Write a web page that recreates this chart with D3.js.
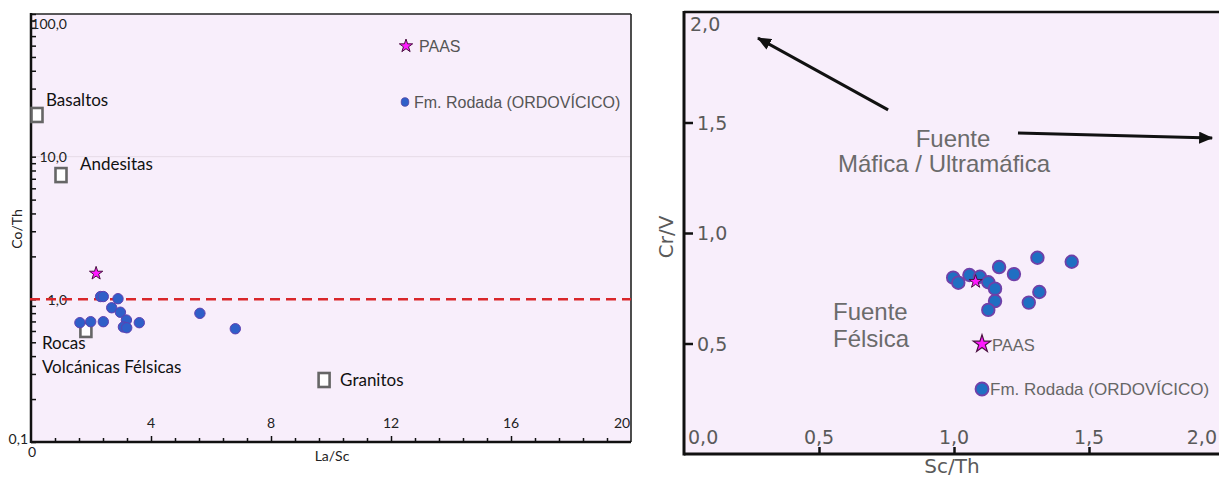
<!DOCTYPE html>
<html><head><meta charset="utf-8">
<script src="https://cdn.jsdelivr.net/npm/d3@7"></script>
<style>html,body{margin:0;padding:0;background:#fff;}</style>
</head><body>
<svg id="c" width="1219" height="480"></svg>
<script>
// ---------- DATA ----------
// Left panel: Co/Th vs La/Sc
const rodadaLaSc = [1.63, 1.99, 2.32, 2.41, 2.41, 2.69, 2.90, 2.98, 3.18, 3.08, 3.19, 3.61, 5.63, 6.81];
const rodadaCoTh = [0.686, 0.697, 1.046, 1.046, 0.697, 0.873, 1.01, 0.812, 0.716, 0.64, 0.632, 0.686, 0.798, 0.622];
const paasLaSc = [2.17];
const paasCoTh = [1.52];
const sourceNames = ["Basaltos", "Andesitas", "Rocas|Volcánicas Félsicas", "Granitos"];
const sourceLaSc = [0.2, 1.0, 1.83, 9.77];
const sourceCoTh = [19.6, 7.43, 0.61, 0.272];
const leftXTicks = [0, 4, 8, 12, 16, 20];
const leftXTickLabels = ["0", "4", "8", "12", "16", "20"];
const leftYTicks = [0.1, 1, 10, 100];
const leftYTickLabels = ["0,1", "1,0", "10,0", "100,0"];
const refLineCoTh = [1];

// Right panel: Cr/V vs Sc/Th
const rodadaScTh = [0.997, 1.016, 1.057, 1.096, 1.127, 1.152, 1.152, 1.127, 1.167, 1.222, 1.309, 1.436, 1.316, 1.277];
const rodadaCrV  = [0.798, 0.775, 0.810, 0.802, 0.777, 0.748, 0.692, 0.652, 0.846, 0.814, 0.888, 0.870, 0.733, 0.685];
const paasScTh = [1.08];
const paasCrV = [0.78];
const rightTicks = [0, 0.5, 1.0, 1.5, 2.0];
const rightTickLabels = ["0,0", "0,5", "1,0", "1,5", "2,0"];
// annotation arrows (data units: [x1,y1,x2,y2])
const arrowsScTh = [[0.756, 1.557, 0.274, 1.882], [1.237, 1.452, 1.956, 1.430]];

// ---------- DRAW ----------
const svg = d3.select("#c");
const BG = "#f8eefb";
const sym = d3.symbol();

// ===== LEFT =====
const xL = d3.scaleLinear([0, 20], [31, 631]);
const yL = d3.scaleLog([0.1, 100], [442, 14]);
const L = svg.append("g");
L.append("rect").attr("x", xL(0)).attr("y", yL(100)).attr("width", xL(20) - xL(0)).attr("height", yL(0.1) - yL(100)).attr("fill", BG);
// faint gridline at 10
L.append("line").attr("x1", xL(0)).attr("x2", xL(20)).attr("y1", yL(10)).attr("y2", yL(10)).attr("stroke", "#e6dbe6").attr("stroke-width", 1);
// frame
L.append("line").attr("x1", xL(0)).attr("x2", xL(20)).attr("y1", yL(100)).attr("y2", yL(100)).attr("stroke", "#222").attr("stroke-width", 1.6);
L.append("line").attr("x1", xL(20)).attr("x2", xL(20)).attr("y1", yL(100)).attr("y2", yL(0.1)).attr("stroke", "#222").attr("stroke-width", 1.6);

// ticks via axes
const minorX = d3.range(0.8, 20, 0.8).filter(v => Math.abs(v / 4 - Math.round(v / 4)) > 1e-6);
L.append("g").attr("transform", `translate(0,${yL(0.1)})`)
  .call(d3.axisBottom(xL).tickValues(minorX).tickSize(-4).tickFormat(""))
  .call(g => g.select(".domain").remove())
  .selectAll("line").attr("stroke", "#111").attr("stroke-width", 1.5);
L.append("g").attr("transform", `translate(0,${yL(0.1)})`)
  .call(d3.axisBottom(xL).tickValues([4, 8, 12, 16]).tickSize(-6).tickFormat(""))
  .call(g => g.select(".domain").remove())
  .selectAll("line").attr("stroke", "#111").attr("stroke-width", 1.5);
L.append("g").attr("transform", `translate(${xL(0)},0)`)
  .call(d3.axisLeft(yL).tickValues(yL.ticks()).tickSize(-5).tickFormat(""))
  .call(g => g.select(".domain").remove())
  .selectAll("line").attr("stroke", "#111").attr("stroke-width", 1.5);
// axis lines
L.append("line").attr("x1", xL(0)).attr("x2", xL(20)).attr("y1", yL(0.1)).attr("y2", yL(0.1)).attr("stroke", "#111").attr("stroke-width", 2.5);
L.append("line").attr("x1", xL(0)).attr("x2", xL(0)).attr("y1", yL(100) - 1).attr("y2", yL(0.1) + 1).attr("stroke", "#111").attr("stroke-width", 2.5);

const tickFont = "Lato, 'Open Sans', sans-serif";
// x tick labels
leftXTicks.forEach((v, i) => {
  const t = L.append("text").text(leftXTickLabels[i]).attr("font-family", tickFont).attr("font-size", 14).attr("fill", "#222");
  if (v === 0) {
    t.attr("x", xL(0) + 1).attr("y", yL(0.1) + 15).attr("text-anchor", "middle");
  } else {
    t.attr("x", Math.min(xL(v), xL(20) - 9)).attr("y", yL(0.1) - 14).attr("text-anchor", "middle");
  }
});
// y tick labels
leftYTicks.forEach((v, i) => {
  const t = L.append("text").text(leftYTickLabels[i]).attr("font-family", tickFont).attr("font-size", 14).attr("fill", "#222").attr("dominant-baseline", "central");
  if (v === 0.1) {
    t.attr("x", xL(0) - 3).attr("y", yL(0.1) - 4).attr("text-anchor", "end");
  } else {
    t.attr("x", xL(0) + 36).attr("y", Math.max(yL(v), yL(100) + 9)).attr("text-anchor", "end");
  }
});
// axis titles
L.append("text").text("La/Sc").attr("x", 332).attr("y", 461).attr("text-anchor", "middle").attr("font-family", tickFont).attr("font-size", 14).attr("fill", "#222");
L.append("text").text("Co/Th").attr("transform", `translate(22,229) rotate(-90)`).attr("text-anchor", "middle").attr("font-family", tickFont).attr("font-size", 14).attr("fill", "#222");

// red dashed reference line
L.selectAll(".ref").data(refLineCoTh).join("line")
  .attr("x1", xL(0) - 1).attr("x2", xL(20)).attr("y1", d => yL(d)).attr("y2", d => yL(d))
  .attr("stroke", "#d9262a").attr("stroke-width", 2.5).attr("stroke-dasharray", "10,6");

// source squares & labels
const srcLabelOff = [[9, -9], [19, -5], [-44, 19], [16, 6]];
sourceNames.forEach((name, i) => {
  const cx = xL(sourceLaSc[i]), cy = yL(sourceCoTh[i]);
  L.append("rect").attr("x", cx - 5.5).attr("y", cy - 7).attr("width", 11).attr("height", 14)
    .attr("fill", "#fff").attr("stroke", "#666").attr("stroke-width", 2.6);
  const lines = name.split("|");
  lines.forEach((ln, j) => {
    L.append("text").text(ln).attr("x", cx + srcLabelOff[i][0]).attr("y", cy + srcLabelOff[i][1] + j * 24)
      .attr("font-family", tickFont).attr("font-size", 17).attr("fill", "#111");
  });
});

// Rodada points
L.selectAll(".pl").data(rodadaLaSc).join("circle")
  .attr("cx", d => xL(d)).attr("cy", (d, i) => yL(rodadaCoTh[i])).attr("r", 5.2)
  .attr("fill", "#2f5fc8").attr("stroke", "#6040b0").attr("stroke-width", 1);
// PAAS star
L.selectAll(".sl").data(paasLaSc).join("path")
  .attr("d", sym.type(d3.symbolStar).size(55)())
  .attr("transform", (d, i) => `translate(${xL(d)},${yL(paasCoTh[i])})`)
  .attr("fill", "#ff1aff").attr("stroke", "#4a1040").attr("stroke-width", 1);

// left legend
const legFont = "'Liberation Sans', Arial, sans-serif";
L.append("path").attr("d", d3.symbol(d3.symbolStar, 55)()).attr("transform", "translate(406,46)")
  .attr("fill", "#ff1aff").attr("stroke", "#4a1040").attr("stroke-width", 1);
L.append("text").text("PAAS").attr("x", 419).attr("y", 46).attr("dominant-baseline", "central")
  .attr("font-family", legFont).attr("font-size", 16).attr("fill", "#555");
L.append("ellipse").attr("cx", 405).attr("cy", 102).attr("rx", 3.8).attr("ry", 4.3).attr("fill", "#2f5fc8").attr("stroke", "#5040a0").attr("stroke-width", 0.8);
L.append("text").text("Fm. Rodada (ORDOVÍCICO)").attr("x", 414).attr("y", 102).attr("dominant-baseline", "central")
  .attr("font-family", legFont).attr("font-size", 16).attr("fill", "#555");

// ===== RIGHT =====
const xR = d3.scaleLinear([0, 2], [684, 1224]);
const yR = d3.scaleLinear([0, 2], [454, 12]);
const R = svg.append("g");
R.append("rect").attr("x", xR(0)).attr("y", yR(2)).attr("width", 1219 - xR(0)).attr("height", yR(0) - yR(2)).attr("fill", BG);
R.append("line").attr("x1", xR(0)).attr("x2", 1219).attr("y1", yR(2)).attr("y2", yR(2)).attr("stroke", "#111").attr("stroke-width", 2.5);

R.append("g").attr("transform", `translate(0,${yR(0)})`)
  .call(d3.axisBottom(xR).tickValues([0.5, 1.0, 1.5]).tickSize(-7).tickFormat(""))
  .call(g => g.select(".domain").remove())
  .selectAll("line").attr("stroke", "#111").attr("stroke-width", 2.5);
R.append("g").attr("transform", `translate(${xR(0)},0)`)
  .call(d3.axisLeft(yR).tickValues([0.5, 1.0, 1.5]).tickSize(-9).tickFormat(""))
  .call(g => g.select(".domain").remove())
  .selectAll("line").attr("stroke", "#111").attr("stroke-width", 2.5);
R.append("line").attr("x1", xR(0)).attr("x2", 1219).attr("y1", yR(0)).attr("y2", yR(0)).attr("stroke", "#111").attr("stroke-width", 3);
R.append("line").attr("x1", xR(0)).attr("x2", xR(0)).attr("y1", yR(2) - 1).attr("y2", yR(0) + 1.5).attr("stroke", "#111").attr("stroke-width", 3);

const rFont = "'DejaVu Sans', Verdana, sans-serif";
rightTicks.forEach((v, i) => {
  // x labels
  const tx = R.append("text").text(rightTickLabels[i]).attr("font-family", rFont).attr("font-size", 19).attr("fill", "#5a5a5a")
    .attr("y", yR(0) - 17).attr("dominant-baseline", "central");
  if (v === 0) tx.attr("x", xR(0) + 4).attr("text-anchor", "start");
  else if (v === 2) tx.attr("x", 1217).attr("text-anchor", "end");
  else tx.attr("x", xR(v)).attr("text-anchor", "middle");
  // y labels
  if (v > 0) {
    const ty = R.append("text").text(rightTickLabels[i]).attr("font-family", rFont).attr("font-size", 19).attr("fill", "#5a5a5a")
      .attr("dominant-baseline", "central");
    if (v === 2) ty.attr("x", xR(0) + 6).attr("y", yR(2) + 12);
    else ty.attr("x", xR(0) + 13).attr("y", yR(v));
  }
});
R.append("text").text("Sc/Th").attr("x", 952).attr("y", 473).attr("text-anchor", "middle").attr("font-family", rFont).attr("font-size", 20).attr("fill", "#5a5a5a");
R.append("text").text("Cr/V").attr("transform", "translate(673,237) rotate(-90)").attr("text-anchor", "middle").attr("font-family", rFont).attr("font-size", 20).attr("fill", "#5a5a5a");

// arrows
const defs = svg.append("defs");
defs.append("marker").attr("id", "ah").attr("viewBox", "0 0 14 12").attr("refX", 13).attr("refY", 6)
  .attr("markerWidth", 14).attr("markerHeight", 12).attr("markerUnits", "userSpaceOnUse").attr("orient", "auto")
  .append("path").attr("d", "M0,0 L14,6 L0,12 Z").attr("fill", "#111");
R.selectAll(".arr").data(arrowsScTh).join("line")
  .attr("x1", d => xR(d[0])).attr("y1", d => yR(d[1])).attr("x2", d => xR(d[2])).attr("y2", d => yR(d[3]))
  .attr("stroke", "#111").attr("stroke-width", 3).attr("marker-end", "url(#ah)");

// annotations
const annFont = "'Liberation Sans', Arial, sans-serif";
const annColor = "#6b6b6b";
R.append("text").text("Fuente").attr("x", 953).attr("y", 147).attr("text-anchor", "middle").attr("font-family", annFont).attr("font-size", 24).attr("fill", annColor);
R.append("text").text("Máfica / Ultramáfica").attr("x", 944).attr("y", 172).attr("text-anchor", "middle").attr("font-family", annFont).attr("font-size", 24).attr("fill", annColor);
R.append("text").text("Fuente").attr("x", 833).attr("y", 320).attr("font-family", annFont).attr("font-size", 24).attr("fill", annColor);
R.append("text").text("Félsica").attr("x", 833).attr("y", 347).attr("font-family", annFont).attr("font-size", 24).attr("fill", annColor);

// points
R.selectAll(".pr").data(rodadaScTh).join("circle")
  .attr("cx", d => xR(d)).attr("cy", (d, i) => yR(rodadaCrV[i])).attr("r", 6.3)
  .attr("fill", "#1f6fc2").attr("stroke", "#7040a8").attr("stroke-width", 1.8);
R.selectAll(".sr").data(paasScTh).join("path")
  .attr("d", d3.symbol(d3.symbolStar, 55)())
  .attr("transform", (d, i) => `translate(${xR(d)},${yR(paasCrV[i])})`)
  .attr("fill", "#ff1aff").attr("stroke", "#4a1040").attr("stroke-width", 1);

// right legend
R.append("path").attr("d", d3.symbol(d3.symbolStar, 95)()).attr("transform", "translate(982,344)")
  .attr("fill", "#ff1aff").attr("stroke", "#4a1040").attr("stroke-width", 1.2);
R.append("text").text("PAAS").attr("x", 992).attr("y", 345).attr("dominant-baseline", "central")
  .attr("font-family", legFont).attr("font-size", 16.5).attr("fill", "#666");
R.append("circle").attr("cx", 982).attr("cy", 389).attr("r", 6.5).attr("fill", "#1f6fc2").attr("stroke", "#7040a8").attr("stroke-width", 1.8);
R.append("text").text("Fm. Rodada (ORDOVÍCICO)").attr("x", 990).attr("y", 389).attr("dominant-baseline", "central")
  .attr("font-family", legFont).attr("font-size", 17).attr("fill", "#666");
</script>
</body></html>
